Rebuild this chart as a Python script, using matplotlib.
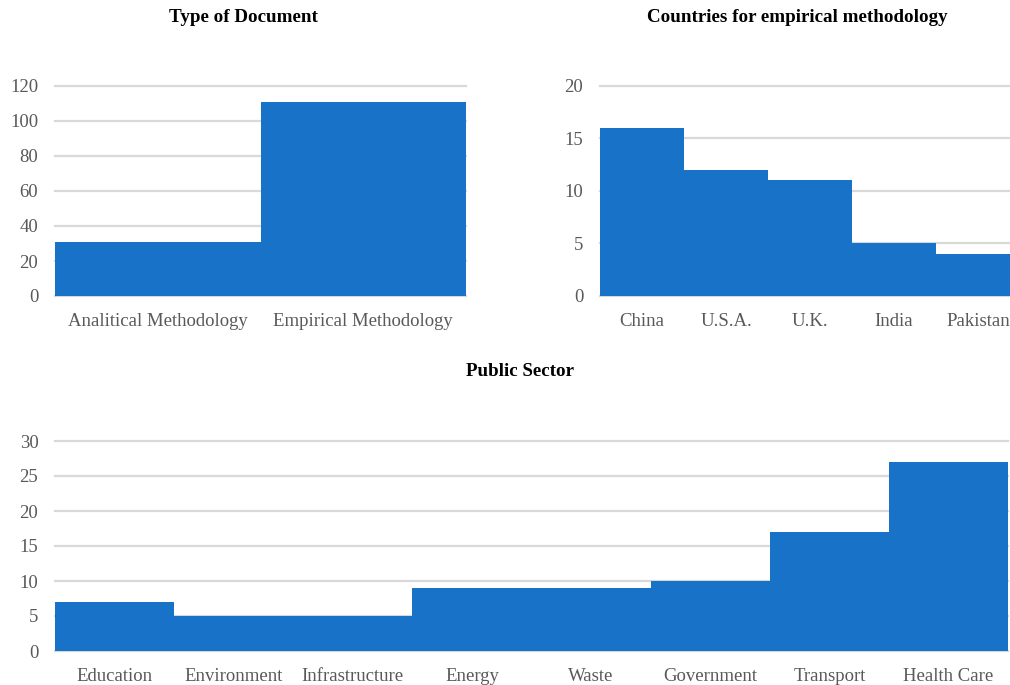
import matplotlib
matplotlib.use('Agg')
import matplotlib.pyplot as plt

doc_types = ['Analitical Methodology', 'Empirical Methodology']
doc_counts = [31, 111]

countries = ['China', 'U.S.A.', 'U.K.', 'India', 'Pakistan']
country_counts = [16, 12, 11, 5, 4]

sectors = ['Education', 'Environment', 'Infrastructure', 'Energy', 'Waste',
           'Government', 'Transport', 'Health Care']
sector_counts = [7, 5, 5, 9, 9, 10, 17, 27]

bar_colour = '#1772c8'
grid_colour = '#d9d9d9'
tick_colour = '#595959'
tick_font = 'Liberation Serif'
title_font = 'Liberation Serif'

W, H = 1010, 685
fig = plt.figure(figsize=(W / 100, H / 100), dpi=100)


def px_axes(x0, x1, ytop, ybot):
  return fig.add_axes([x0 / W, 1 - ybot / H, (x1 - x0) / W, (ybot - ytop) / H])


def bar_panel(ax, labels, values, ymax, step):
  x = range(len(values))
  ax.bar(x, values, width=1.0, color=bar_colour, zorder=2)
  ax.set_xlim(-0.5, len(values) - 0.5)
  ax.set_ylim(0, ymax)
  ax.set_yticks(range(0, ymax + 1, step))
  ax.set_xticks(list(x))
  ax.set_xticklabels(labels)
  ax.yaxis.grid(True, color=grid_colour, lw=1.6, clip_on=False)
  ax.set_axisbelow(True)
  for s in ax.spines.values():
    s.set_visible(False)
  ax.tick_params(axis='both', length=0, colors=tick_colour, labelsize=13.5)
  ax.tick_params(axis='y', pad=12)
  ax.tick_params(axis='x', pad=12)
  for t in ax.get_xticklabels() + ax.get_yticklabels():
    t.set_fontfamily(tick_font)


ax1 = px_axes(55, 466, 86, 296)
bar_panel(ax1, doc_types, doc_counts, 120, 20)

ax2 = px_axes(600, 1020, 86, 296)
bar_panel(ax2, countries, country_counts, 20, 5)

ax3 = px_axes(55, 1008, 441, 651)
bar_panel(ax3, sectors, sector_counts, 30, 5)

fig.text(243 / W, 1 - 17 / H, 'Type of Document', ha='center', va='center',
         fontsize=13.7, fontweight='bold', fontfamily=title_font)
fig.text(797 / W, 1 - 17 / H, 'Countries for empirical methodology', ha='center', va='center',
         fontsize=13.7, fontweight='bold', fontfamily=title_font)
fig.text(520 / W, 1 - 372 / H, 'Public Sector', ha='center', va='center',
         fontsize=13.7, fontweight='bold', fontfamily=title_font)

fig.savefig('out.png', dpi=100)
